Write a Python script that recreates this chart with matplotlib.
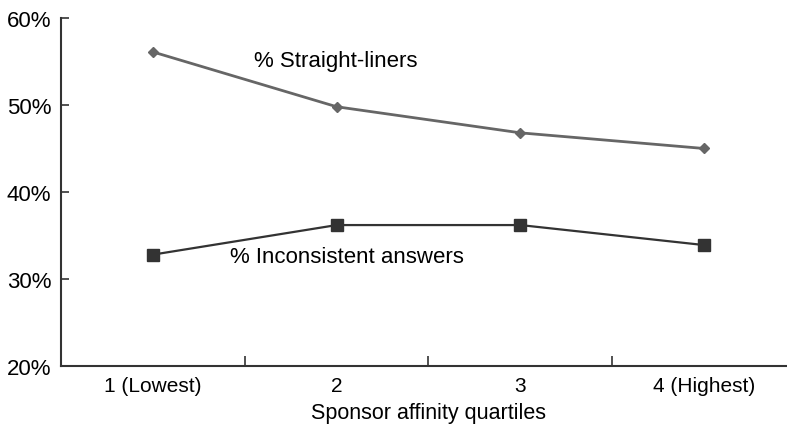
import matplotlib
matplotlib.use("Agg")
import matplotlib.pyplot as plt

categories = ["1 (Lowest)", "2", "3", "4 (Highest)"]
straight_liners = [56.1, 49.8, 46.8, 45.0]
inconsistent = [32.8, 36.2, 36.2, 33.9]
yticks = [20, 30, 40, 50, 60]

plt.rcParams['font.family'] = ['Liberation Sans', 'DejaVu Sans']

W, H = 787, 427
fig = plt.figure(figsize=(W/100, H/100), dpi=100)
left, right = 61, 796
top, bottom = 19, 367
ax = fig.add_axes([left/W, 1-bottom/H, (right-left)/W, (bottom-top)/H])

x = list(range(len(categories)))
ax.plot(x, straight_liners, color='#666666', lw=2, marker='D', ms=5.5, mfc='#666666', mec='#666666')
ax.plot(x, inconsistent, color='#333333', lw=1.6, marker='s', ms=9, mfc='#333333', mec='#333333')

ax.set_xlim(-0.5, 3.5)
ax.set_ylim(20, 60)
ax.set_yticks(yticks)
ax.set_yticklabels([f"{v}%" for v in yticks], fontsize=16)
ax.set_xticks([0.5, 1.5, 2.5])
ax.set_xticklabels([])
ax.set_xticks(x, minor=True)
ax.set_xticklabels(categories, minor=True, fontsize=15)
ax.tick_params(axis='x', which='major', direction='in', length=7, width=1.2, color='#333333')
ax.tick_params(axis='x', which='minor', length=0, pad=7)
ax.tick_params(axis='y', direction='in', length=6, width=1.2, color='#333333', pad=7)
for s in ['top', 'right']:
    ax.spines[s].set_visible(False)
for s in ['left', 'bottom']:
    ax.spines[s].set_linewidth(1.5)
    ax.spines[s].set_color('#333333')
ax.set_xlabel("Sponsor affinity quartiles", fontsize=15.5, labelpad=5)

ax.text(0.55, 55.1, "% Straight-liners", fontsize=16, ha='left', va='center')
ax.text(0.42, 32.6, "% Inconsistent answers", fontsize=16, ha='left', va='center')

fig.savefig("out.png", dpi=100)
